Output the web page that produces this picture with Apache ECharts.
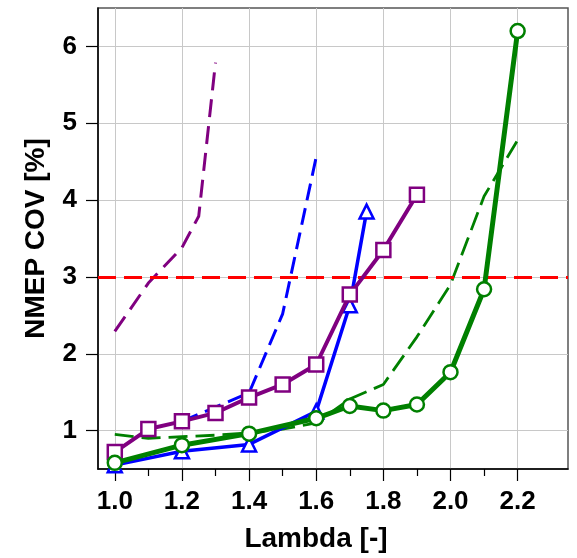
<!DOCTYPE html>
<html>
<head>
<meta charset="utf-8">
<script src="https://cdn.jsdelivr.net/npm/echarts@6/dist/echarts.min.js"></script>
<style>
  html, body { margin: 0; padding: 0; background: #fff; }
  #chart { width: 577px; height: 558px; }
</style>
</head>
<body>
<div id="chart"></div>
<script>
// Lambda sweep values for each measured configuration
const purpleSolidX = [1.0, 1.1, 1.2, 1.3, 1.4, 1.5, 1.6, 1.7, 1.8, 1.9];
const purpleSolidY = [0.72, 1.02, 1.12, 1.23, 1.43, 1.60, 1.86, 2.77, 3.35, 4.07];

const blueSolidX = [1.0, 1.2, 1.4, 1.6, 1.7, 1.75];
const blueSolidY = [0.55, 0.73, 0.82, 1.25, 2.63, 3.85];

const greenSolidX = [1.0, 1.2, 1.4, 1.6, 1.7, 1.8, 1.9, 2.0, 2.1, 2.2];
const greenSolidY = [0.58, 0.81, 0.96, 1.16, 1.32, 1.26, 1.34, 1.76, 2.84, 6.20];

const purpleDashX = [1.0, 1.1, 1.2, 1.25, 1.3];
const purpleDashY = [2.29, 2.92, 3.38, 3.79, 5.79];

const blueDashX = [1.2, 1.4, 1.5, 1.6];
const blueDashY = [1.12, 1.49, 2.52, 4.56];

const greenDashX = [1.0, 1.1, 1.2, 1.3, 1.4, 1.5, 1.6, 1.7, 1.8, 1.9, 2.0, 2.1, 2.2];
const greenDashY = [0.95, 0.90, 0.92, 0.94, 0.97, 1.02, 1.10, 1.41, 1.60, 2.22, 2.90, 4.05, 4.78];

// COV stability limit
const THRESHOLD = 3;

// Axis tick values
const xMajorTicks = [1.0, 1.2, 1.4, 1.6, 1.8, 2.0, 2.2];
const xMinorTicks = [1.1, 1.3, 1.5, 1.7, 1.9, 2.1];
const yTicks = [1, 2, 3, 4, 5, 6];

const PURPLE = '#800080';
const BLUE = '#0000ff';
const GREEN = '#008000';
const RED = '#ff0000';
const FONT = '"Liberation Sans", Arial, sans-serif';

function pairs(xs, ys) {
  return xs.map((x, i) => [x, ys[i]]);
}

function solid(xs, ys, color, width, symbol, size, z) {
  return {
    type: 'line',
    data: pairs(xs, ys),
    z: z,
    symbol: symbol,
    symbolSize: size,
    showSymbol: true,
    lineStyle: { color: color, width: width },
    itemStyle: { color: '#ffffff', borderColor: color, borderWidth: 2.5 },
    emphasis: { disabled: true },
    animation: false
  };
}

function dashed(xs, ys, color, width, dash) {
  return {
    type: 'line',
    data: pairs(xs, ys),
    z: 2,
    symbol: 'none',
    lineStyle: { color: color, width: width, type: dash },
    emphasis: { disabled: true },
    animation: false
  };
}

const chart = echarts.init(document.getElementById('chart'), null, { renderer: 'canvas' });

chart.setOption({
  backgroundColor: '#ffffff',
  animation: false,
  grid: {
    left: 98, top: 8, width: 470, height: 464,
    show: true, borderColor: '#555555', borderWidth: 1.5,
    containLabel: false
  },
  xAxis: [
    {
      type: 'value',
      min: 0.95, max: 2.35, interval: 0.05,
      position: 'bottom',
      name: 'Lambda [-]',
      nameLocation: 'middle',
      nameGap: 56,
      nameTextStyle: {
        fontFamily: FONT, fontSize: 28, fontWeight: 'bold', color: '#000',
        padding: [0, 34, 0, 0]
      },
      axisLine: { show: true, onZero: false, lineStyle: { color: '#000', width: 1.5 } },
      axisTick: { show: true, inside: false, length: 12, customValues: xMajorTicks,
                  lineStyle: { color: '#000', width: 1.2 } },
      axisLabel: {
        customValues: xMajorTicks,
        formatter: v => v.toFixed(1),
        fontFamily: FONT, fontSize: 26, fontWeight: 'bold', color: '#000',
        margin: 20
      },
      splitLine: { show: true, lineStyle: { color: '#c8c8c8', width: 1 } }
    },
    {
      type: 'value',
      min: 0.95, max: 2.35, interval: 0.05,
      position: 'bottom',
      offset: 0,
      axisLine: { show: false },
      axisTick: { show: true, inside: false, length: 7, customValues: xMinorTicks,
                  lineStyle: { color: '#000', width: 1.2 } },
      axisLabel: { show: false },
      splitLine: { show: false }
    }
  ],
  yAxis: {
    type: 'value',
    min: 0.5, max: 6.5, interval: 0.5,
    name: 'NMEP COV [%]',
    nameLocation: 'middle',
    nameGap: 48,
    nameTextStyle: { fontFamily: FONT, fontSize: 28, fontWeight: 'bold', color: '#000' },
    axisLine: { show: true, onZero: false, lineStyle: { color: '#000', width: 1.5 } },
    axisTick: { show: true, inside: false, length: 12, customValues: yTicks,
                lineStyle: { color: '#000', width: 1.2 } },
    axisLabel: {
      customValues: yTicks,
      fontFamily: FONT, fontSize: 26, fontWeight: 'bold', color: '#000',
      margin: 21
    },
    splitLine: { show: true, lineStyle: { color: '#c8c8c8', width: 1 } }
  },
  series: [
    dashed(purpleDashX, purpleDashY, PURPLE, 3, [18, 9]),
    dashed(blueDashX, blueDashY, BLUE, 3, [17, 8]),
    dashed(greenDashX, greenDashY, GREEN, 2.8, [19, 8]),
    {
      type: 'line',
      data: [],
      z: 3,
      markLine: {
        silent: true,
        symbol: 'none',
        label: { show: false },
        lineStyle: { color: RED, width: 3, type: [18, 8] },
        data: [{ yAxis: THRESHOLD }],
        animation: false
      }
    },
    solid(blueSolidX, blueSolidY, BLUE, 3.5, 'triangle', 14, 4),
    solid(purpleSolidX, purpleSolidY, PURPLE, 4, 'rect', 14, 5),
    solid(greenSolidX, greenSolidY, GREEN, 5, 'circle', 14, 6)
  ]
});
</script>
</body>
</html>
